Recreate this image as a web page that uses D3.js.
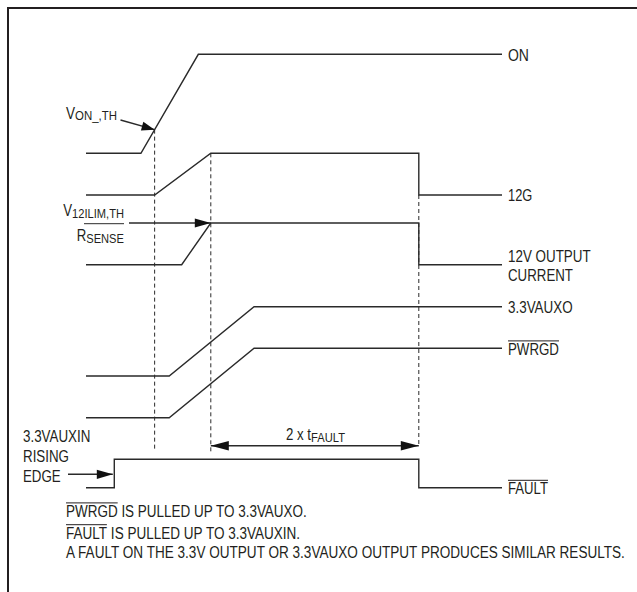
<!DOCTYPE html>
<html>
<head>
<meta charset="utf-8">
<script src="https://cdnjs.cloudflare.com/ajax/libs/d3/7.8.5/d3.min.js"></script>
<style>
  body { margin: 0; background: #fff; }
  svg { display: block; }
  text { font-family: "Liberation Sans", Arial, sans-serif; fill: #231f20; }
</style>
</head>
<body>
<div id="chart"></div>
<script>
// waveforms: [time, logic level] (time in arbitrary units 0..100)
var signalNames = ["ON", "12G", "12V OUTPUT CURRENT", "3.3VAUXO", "PWRGD", "FAULT"];
var onWave      = [[0, 0], [13.2, 0], [27, 1], [100, 1]];
var gateWave    = [[0, 0], [16.5, 0], [30, 1], [80, 1], [80, 0], [100, 0]];
var currentWave = [[0, 0], [23, 0], [30, 1], [80, 1], [80, 0], [100, 0]];
var auxoWave    = [[0, 0], [20, 0], [40.4, 1], [100, 1]];
var pwrgdWave   = [[0, 0], [20, 0], [40.4, 1], [100, 1]];
var faultWave   = [[0, 0], [6.8, 0], [6.8, 1], [80, 1], [80, 0], [100, 0]];
var waves = [onWave, gateWave, currentWave, auxoWave, pwrgdWave, faultWave];

// right hand labels (lines, overline flag)
var rightLabels = [["ON"], ["12G"], ["12V OUTPUT", "CURRENT"], ["3.3VAUXO"], ["PWRGD"], ["FAULT"]];
var overlined = [false, false, false, false, true, true];

// timing events
var vonTime = 16.5;       // ON crosses threshold
var ilimTime = 30;        // current limit reached
var faultTime = 80;       // fault timer expires
var auxinTime = 6.8;      // 3.3VAUXIN rising edge

var edgeLabel = ["3.3VAUXIN", "RISING", "EDGE"];
var notes = [
  { bar: "PWRGD", rest: " IS PULLED UP TO 3.3VAUXO." },
  { bar: "FAULT", rest: " IS PULLED UP TO 3.3VAUXIN." },
  { bar: "", rest: "A FAULT ON THE 3.3V OUTPUT OR 3.3VAUXO OUTPUT PRODUCES SIMILAR RESULTS." }
];

var W = 637, H = 592;
var fs = 15.8, sub = 13.3;
var ink = "#2a2a2a";

// printed widths of the narrow type in the original
var rightWidths = [[21], [24.3], [82.7, 65], [64.7], [51], [40]];
var edgeWidths = [67.5, 46, 37.7];
var noteWidths = [241, 234, 559];

var svg = d3.select("#chart").append("svg")
    .attr("width", W)
    .attr("height", H);

// place a text and squeeze it horizontally to a printed width
// returns the horizontal scale used
function fit(t, px, py, w) {
    var natural = t.node().getComputedTextLength();
    var k = w / natural;
    t.attr("transform", "translate(" + px + "," + py + ") scale(" + k + ",1)");
    return k;
}

// frame (top and left edge only)
svg.append("path")
    .attr("d", "M8," + (H + 5) + "V8H" + (W + 5))
    .attr("fill", "none")
    .attr("stroke", "#231f20")
    .attr("stroke-width", 2);

var x = d3.scaleLinear().domain([0, 100]).range([86, 502]);

// vertical placement of every trace: [low, high] in px
var rowRange = [[153.3, 54.3], [195, 153.3], [264.7, 223], [376, 306.7], [417.7, 348.3], [487.7, 459.3]];
var yScales = rowRange.map(function (r) { return d3.scaleLinear().domain([0, 1]).range(r); });

var line = function (ys) {
    return d3.line().x(function (d) { return x(d[0]); }).y(function (d) { return ys(d[1]); });
};

// traces
waves.forEach(function (w, i) {
    svg.append("path")
        .attr("d", line(yScales[i])(w))
        .attr("fill", "none")
        .attr("stroke", ink)
        .attr("stroke-width", 1.4);
});

// helper: level of a wave at time t
function levelAt(w, t) {
    for (var k = 1; k < w.length; k++) {
        if (t <= w[k][0]) {
            var a = w[k - 1], b = w[k];
            if (b[0] == a[0]) return b[1];
            return a[1] + (b[1] - a[1]) * (t - a[0]) / (b[0] - a[0]);
        }
    }
    return w[w.length - 1][1];
}

// dashed markers
var dimY = 445.7;
var markers = [
    { t: vonTime, top: yScales[0](levelAt(onWave, vonTime)), bottom: 451.5 },
    { t: ilimTime, top: yScales[1](1), bottom: 451.5 },
    { t: faultTime, top: yScales[1](0), bottom: dimY }
];
svg.selectAll(".marker")
    .data(markers)
    .enter()
    .append("line")
    .attr("class", "marker")
    .attr("x1", function (d) { return x(d.t); })
    .attr("x2", function (d) { return x(d.t); })
    .attr("y1", function (d) { return d.top; })
    .attr("y2", function (d) { return d.bottom; })
    .attr("stroke", ink)
    .attr("stroke-width", 1)
    .attr("stroke-dasharray", "4,3");

// arrows
function arrow(x0, y0, x1, y1, len, hw, both) {
    svg.append("line")
        .attr("x1", x0).attr("y1", y0).attr("x2", x1).attr("y2", y1)
        .attr("stroke", ink).attr("stroke-width", 1.4);
    head(x1, y1, x0, y0, len, hw);
    if (both) head(x0, y0, x1, y1, len, hw);
}
function head(tx, ty, fx, fy, len, hw) {
    var a = Math.atan2(ty - fy, tx - fx);
    var bx = tx - len * Math.cos(a), by = ty - len * Math.sin(a);
    var px = -Math.sin(a) * hw, py = Math.cos(a) * hw;
    svg.append("path")
        .attr("d", "M" + tx + "," + ty + "L" + (bx + px) + "," + (by + py) + "L" + (bx - px) + "," + (by - py) + "Z")
        .attr("fill", "#111");
}

arrow(120.5, 120, x(vonTime), yScales[0](levelAt(onWave, vonTime)), 13, 4.5);
arrow(129, yScales[2](1), x(ilimTime), yScales[2](1), 16, 4.6);
arrow(68, 474.3, x(auxinTime) - 1.5, 474.3, 16, 4.6);
arrow(x(ilimTime), dimY, x(faultTime), dimY, 18, 4.8, true);

// right labels
var labelX = 508;
rightLabels.forEach(function (lab, i) {
    var w = waves[i];
    var yc = yScales[i](w[w.length - 1][1]);
    var n = lab.length;
    lab.forEach(function (s, j) {
        var by = n > 1 ? yc - 3 + j * 19.5 : yc + 6.2;
        var t = svg.append("text")
            .style("font-size", fs + "px")
            .text(s);
        fit(t, labelX, by, rightWidths[i][j]);
        if (overlined[i]) {
            svg.append("line")
                .attr("x1", labelX).attr("x2", labelX + rightWidths[i][j])
                .attr("y1", by - 13.6).attr("y2", by - 13.6)
                .attr("stroke", "#231f20").attr("stroke-width", 1);
        }
    });
});

// VON_,TH label
var von = svg.append("text").style("font-size", fs + "px");
von.append("tspan").text("V");
von.append("tspan").attr("dy", 1).style("font-size", sub + "px").text("ON_,TH");
fit(von, 66, 118.7, 51);

// current limit label (fraction)
var num = svg.append("text").style("font-size", fs + "px");
num.append("tspan").text("V");
num.append("tspan").attr("dy", 2).style("font-size", sub + "px").text("12ILIM,TH");
fit(num, 63.3, 215.7, 60.7);
svg.append("line")
    .attr("x1", 84).attr("x2", 124).attr("y1", 223.7).attr("y2", 223.7)
    .attr("stroke", ink).attr("stroke-width", 1);
var den = svg.append("text").style("font-size", fs + "px");
den.append("tspan").text("R");
den.append("tspan").attr("dy", 2).style("font-size", sub + "px").text("SENSE");
fit(den, 76.7, 240.7, 47.3);

// 2 x tFAULT
var dim = svg.append("text").style("font-size", fs + "px");
dim.append("tspan").text("2 x t");
dim.append("tspan").attr("dy", 2.5).style("font-size", sub + "px").text("FAULT");
fit(dim, 286, 439.7, 59);

// 3.3VAUXIN RISING EDGE
edgeLabel.forEach(function (s, j) {
    var t = svg.append("text")
        .style("font-size", fs + "px")
        .text(s);
    fit(t, 23, 441.9 + j * 20, edgeWidths[j]);
});

// notes
var noteY = [516.9, 538.7, 557.7];
notes.forEach(function (nt, j) {
    var t = svg.append("text").style("font-size", fs + "px");
    var b = t.append("tspan").text(nt.bar);
    t.append("tspan").text(nt.rest);
    var barNat = nt.bar ? b.node().getComputedTextLength() : 0;
    var k = fit(t, 66, noteY[j], noteWidths[j]);
    if (nt.bar) {
        svg.append("line")
            .attr("x1", 66).attr("x2", 66 + barNat * k)
            .attr("y1", noteY[j] - 14).attr("y2", noteY[j] - 14)
            .attr("stroke", "#231f20").attr("stroke-width", 1);
    }
});
</script>
</body>
</html>
